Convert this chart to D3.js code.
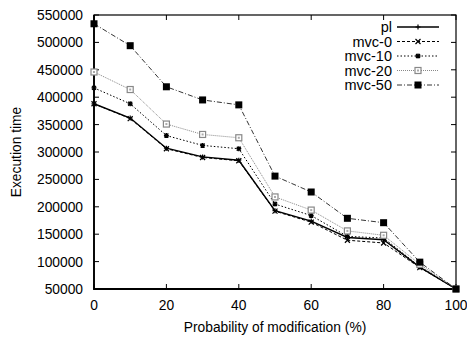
<!DOCTYPE html>
<html><head><meta charset="utf-8">
<script src="https://cdn.jsdelivr.net/npm/d3@7"></script>
<style>body{margin:0;background:#fff}svg{display:block}text{font-family:"Liberation Sans",Arial,sans-serif;fill:#000}</style>
</head><body><svg id="c" width="467" height="337"></svg>
<script>
const xVals = [0,10,20,30,40,50,60,70,80,90,100];
const seriesNames = ["pl","mvc-0","mvc-10","mvc-20","mvc-50"];
const pl     = [388000,362000,307000,291000,285000,193000,174000,144000,140000,90000,50000];
const mvc0   = [388000,361000,306000,290000,284000,192000,172000,139000,134000,89000,50000];
const mvc10  = [417000,388000,330000,312000,306000,205000,184000,146000,143000,91000,50000];
const mvc20  = [446000,414000,351000,332000,326000,218000,194000,156000,148000,95000,50000];
const mvc50  = [534000,494000,419000,395000,386000,256000,227000,179000,171000,99000,50000];
const yTicks = [50000,100000,150000,200000,250000,300000,350000,400000,450000,500000,550000];
const xTicks = [0,20,40,60,80,100];

const svg = d3.select("#c");
const L=94,R=456,T=15,B=289;
const FS=13.8;
const x = d3.scaleLinear().domain([0,100]).range([L,R]);
const y = d3.scaleLinear().domain([50000,550000]).range([B,T]);

const styles = [
  {data:pl,   color:"#000", dash:null,    w:1.4, marker:"plus"},
  {data:mvc0, color:"#000", dash:"3,2",   w:1,   marker:"cross"},
  {data:mvc10,color:"#000", dash:"1.5,2", w:1,   marker:"star"},
  {data:mvc20,color:"#888", dash:"1,1",   w:1,   marker:"osq"},
  {data:mvc50,color:"#000", dash:"5,2,1,2", w:0.8, marker:"fsq"}
];

const g = svg.append("g");
yTicks.forEach(v=>{
  g.append("line").attr("x1",L).attr("x2",L+5).attr("y1",y(v)).attr("y2",y(v)).attr("stroke","#000");
  g.append("line").attr("x1",R-5).attr("x2",R).attr("y1",y(v)).attr("y2",y(v)).attr("stroke","#000");
  g.append("text").attr("x",L-11).attr("y",y(v)+5).attr("text-anchor","end").attr("font-size",FS).text(v);
});
xTicks.forEach(v=>{
  g.append("line").attr("x1",x(v)).attr("x2",x(v)).attr("y1",B).attr("y2",B-5).attr("stroke","#000");
  g.append("line").attr("x1",x(v)).attr("x2",x(v)).attr("y1",T).attr("y2",T+5).attr("stroke","#000");
  g.append("text").attr("x",x(v)).attr("y",B+21).attr("text-anchor","middle").attr("font-size",FS).text(v);
});
g.append("rect").attr("x",L).attr("y",T).attr("width",R-L).attr("height",B-T).attr("fill","none").attr("stroke","#000").attr("stroke-width",1.2);
g.append("path").attr("d",`M${L},${T}V${B}H${R}`).attr("fill","none").attr("stroke","#000").attr("stroke-width",1.8);

svg.append("text").attr("x",(L+R)/2).attr("y",332).attr("text-anchor","middle").attr("font-size",FS).text("Probability of modification (%)");
svg.append("text").attr("transform",`translate(21,${(T+B)/2}) rotate(-90)`).attr("text-anchor","middle").attr("font-size",FS).text("Execution time");

function drawMarker(sel, type, cx, cy, color){
  const s = sel.append("g").attr("transform",`translate(${cx},${cy})`);
  if(type==="plus"){
    s.append("path").attr("d","M-2.5,0H2.5M0,-2.5V2.5").attr("stroke",color).attr("stroke-width",1.2);
  } else if(type==="cross"){
    s.append("path").attr("d","M-2.5,-2.5L2.5,2.5M-2.5,2.5L2.5,-2.5").attr("stroke",color).attr("stroke-width",1.2);
  } else if(type==="star"){
    s.append("path").attr("d","M-2.5,0H2.5M0,-2.5V2.5M-2,-2L2,2M-2,2L2,-2").attr("stroke",color).attr("stroke-width",1.3);
  } else if(type==="osq"){
    s.append("rect").attr("x",-3).attr("y",-3).attr("width",6).attr("height",6).attr("fill","#fff").attr("stroke",color).attr("stroke-width",1.2);
    s.append("rect").attr("x",-1).attr("y",-1).attr("width",2).attr("height",2).attr("fill","#aaa");
  } else if(type==="fsq"){
    s.append("rect").attr("x",-3.5).attr("y",-3.5).attr("width",7).attr("height",7).attr("fill",color);
  }
}

const line = d3.line().x((d,i)=>x(xVals[i])).y(d=>y(d));
styles.forEach(st=>{
  svg.append("path").attr("d",line(st.data)).attr("fill","none").attr("stroke",st.color)
    .attr("stroke-width",st.w).attr("stroke-dasharray",st.dash);
  st.data.forEach((v,i)=>drawMarker(svg,st.marker,x(xVals[i]),y(v),st.color));
});

const legY = [27,41.5,56,70.5,85];
styles.forEach((st,i)=>{
  svg.append("text").attr("x",392).attr("y",legY[i]+5).attr("text-anchor","end").attr("font-size",14.5).text(seriesNames[i]);
  svg.append("line").attr("x1",397).attr("x2",439).attr("y1",legY[i]).attr("y2",legY[i])
    .attr("stroke",st.color).attr("stroke-width",st.w).attr("stroke-dasharray",st.dash);
  drawMarker(svg,st.marker,418,legY[i],st.color);
});
</script></body></html>
